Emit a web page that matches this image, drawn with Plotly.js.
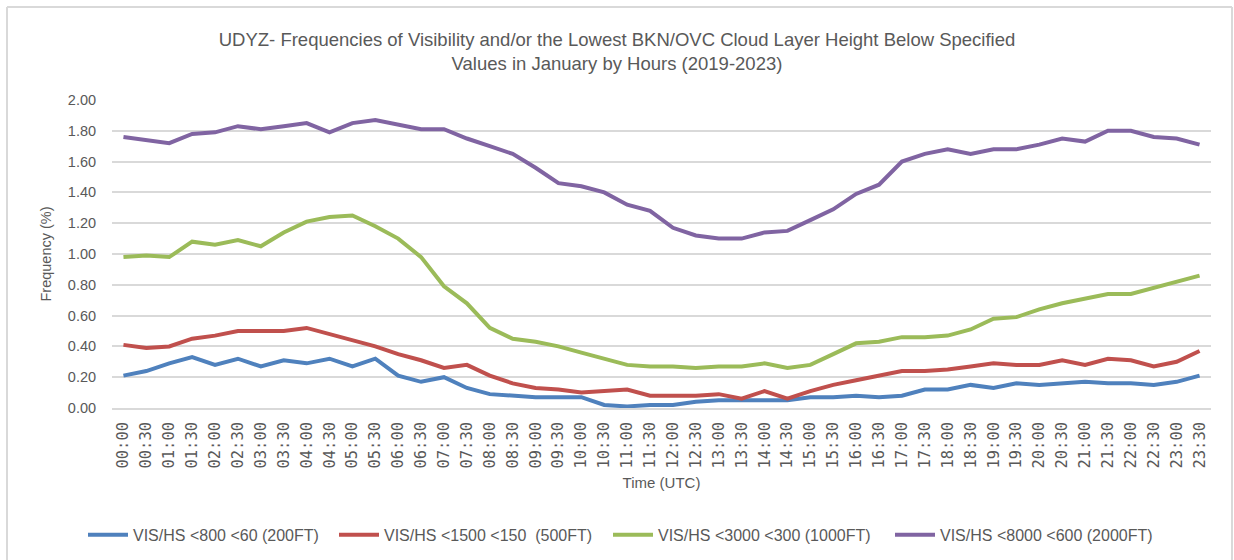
<!DOCTYPE html>
<html>
<head>
<meta charset="utf-8">
<script src="https://cdn.plot.ly/plotly-3.0.1.min.js"></script>
<style>html,body{margin:0;padding:0;background:#fff;}#chart{width:1234px;height:560px;}</style>
</head>
<body>
<div id="chart"></div>
<script>
const times = ["00:00","00:30","01:00","01:30","02:00","02:30","03:00","03:30","04:00","04:30","05:00","05:30","06:00","06:30","07:00","07:30","08:00","08:30","09:00","09:30","10:00","10:30","11:00","11:30","12:00","12:30","13:00","13:30","14:00","14:30","15:00","15:30","16:00","16:30","17:00","17:30","18:00","18:30","19:00","19:30","20:00","20:30","21:00","21:30","22:00","22:30","23:00","23:30"];

const vis800 = [0.21,0.24,0.29,0.33,0.28,0.32,0.27,0.31,0.29,0.32,0.27,0.32,0.21,0.17,0.20,0.13,0.09,0.08,0.07,0.07,0.07,0.02,0.01,0.02,0.02,0.04,0.05,0.05,0.05,0.05,0.07,0.07,0.08,0.07,0.08,0.12,0.12,0.15,0.13,0.16,0.15,0.16,0.17,0.16,0.16,0.15,0.17,0.21];
const vis1500 = [0.41,0.39,0.40,0.45,0.47,0.50,0.50,0.50,0.52,0.48,0.44,0.40,0.35,0.31,0.26,0.28,0.21,0.16,0.13,0.12,0.10,0.11,0.12,0.08,0.08,0.08,0.09,0.06,0.11,0.06,0.11,0.15,0.18,0.21,0.24,0.24,0.25,0.27,0.29,0.28,0.28,0.31,0.28,0.32,0.31,0.27,0.30,0.37];
const vis3000 = [0.98,0.99,0.98,1.08,1.06,1.09,1.05,1.14,1.21,1.24,1.25,1.18,1.10,0.98,0.79,0.68,0.52,0.45,0.43,0.40,0.36,0.32,0.28,0.27,0.27,0.26,0.27,0.27,0.29,0.26,0.28,0.35,0.42,0.43,0.46,0.46,0.47,0.51,0.58,0.59,0.64,0.68,0.71,0.74,0.74,0.78,0.82,0.86];
const vis8000 = [1.76,1.74,1.72,1.78,1.79,1.83,1.81,1.83,1.85,1.79,1.85,1.87,1.84,1.81,1.81,1.75,1.70,1.65,1.56,1.46,1.44,1.40,1.32,1.28,1.17,1.12,1.10,1.10,1.14,1.15,1.22,1.29,1.39,1.45,1.60,1.65,1.68,1.65,1.68,1.68,1.71,1.75,1.73,1.80,1.80,1.76,1.75,1.71];

const seriesNames = ["VIS/HS <800 <60 (200FT)","VIS/HS <1500 <150  (500FT)","VIS/HS <3000 <300 (1000FT)","VIS/HS <8000 <600 (2000FT)"];
const seriesValues = [vis800, vis1500, vis3000, vis8000];
const seriesColors = ["#4f81bd","#c0504d","#9bbb59","#8064a2"];
const legendIds = ["legend","legend2","legend3","legend4"];

const traces = seriesValues.map((vals, i) => ({
  type: "scatter",
  mode: "lines",
  x: times,
  y: vals,
  name: seriesNames[i].replace(/ /g, "\u00a0"),
  legend: legendIds[i],
  line: {color: seriesColors[i], width: 4},
  hoverinfo: "x+y+name"
}));

const fontFam = "Liberation Sans, Arial, sans-serif";
const layout = {
  width: 1234,
  height: 560,
  paper_bgcolor: "#ffffff",
  plot_bgcolor: "#ffffff",
  margin: {l: 112, r: 23, t: 100, b: 152, autoexpand: false},
  font: {family: fontFam, color: "#595959", size: 14},
  title: {
    text: "UDYZ- Frequencies of Visibility and/or the Lowest BKN/OVC Cloud Layer Height Below Specified<br>Values in January by Hours (2019-2023)",
    font: {family: fontFam, size: 18.5, color: "#595959"},
    x: 0.5, xanchor: "center", y: 0.918, yanchor: "top"
  },
  xaxis: {
    type: "category",
    range: [-0.5, 47.5],
    tickangle: -90,
    tickfont: {family: "DejaVu Sans Mono, monospace", size: 15.5, color: "#595959"},
    showgrid: false,
    showline: true,
    linecolor: "#d9d9d9",
    linewidth: 1.5,
    ticks: "outside",
    ticklen: 6,
    tickcolor: "rgba(0,0,0,0)",
    zeroline: false,
    title: {text: "Time (UTC)", font: {size: 15, color: "#595959"}, standoff: 10},
    fixedrange: true
  },
  yaxis: {
    range: [0, 2.0],
    dtick: 0.2,
    tick0: 0,
    tickformat: ".2f",
    tickfont: {size: 14.5, color: "#595959"},
    showgrid: true,
    gridcolor: "#d9d9d9",
    gridwidth: 1.5,
    zeroline: false,
    showline: false,
    ticks: "outside",
    ticklen: 12,
    tickcolor: "rgba(0,0,0,0)",
    title: {text: "Frequency (%)", font: {size: 14.5, color: "#595959"}, standoff: 12},
    fixedrange: true
  },
  shapes: [
    {type: "line", xref: "paper", yref: "paper", x0: (7-112)/1099, x1: (7-112)/1099, y0: -152/308, y1: (408-7)/308, line: {color: "#d9d9d9", width: 2}},
    {type: "line", xref: "paper", yref: "paper", x0: (7-112)/1099, x1: (1232-112)/1099, y0: (408-7)/308, y1: (408-7)/308, line: {color: "#d9d9d9", width: 2}},
    {type: "line", xref: "paper", yref: "paper", x0: (1232-112)/1099, x1: (1232-112)/1099, y0: -152/308, y1: (408-7)/308, line: {color: "#d9d9d9", width: 2}}
  ],
  showlegend: true
};

const legendStarts = [83, 334, 608, 890];
legendIds.forEach((id, i) => {
  layout[id] = {
    orientation: "h",
    x: legendStarts[i] / 1234, xanchor: "left", xref: "container",
    y: 0.045, yanchor: "middle", yref: "container",
    font: {size: 16, color: "#595959"},
    itemwidth: 40,
    bgcolor: "rgba(0,0,0,0)"
  };
});

Plotly.newPlot("chart", traces, layout, {displayModeBar: false, staticPlot: false});
</script>
</body>
</html>
